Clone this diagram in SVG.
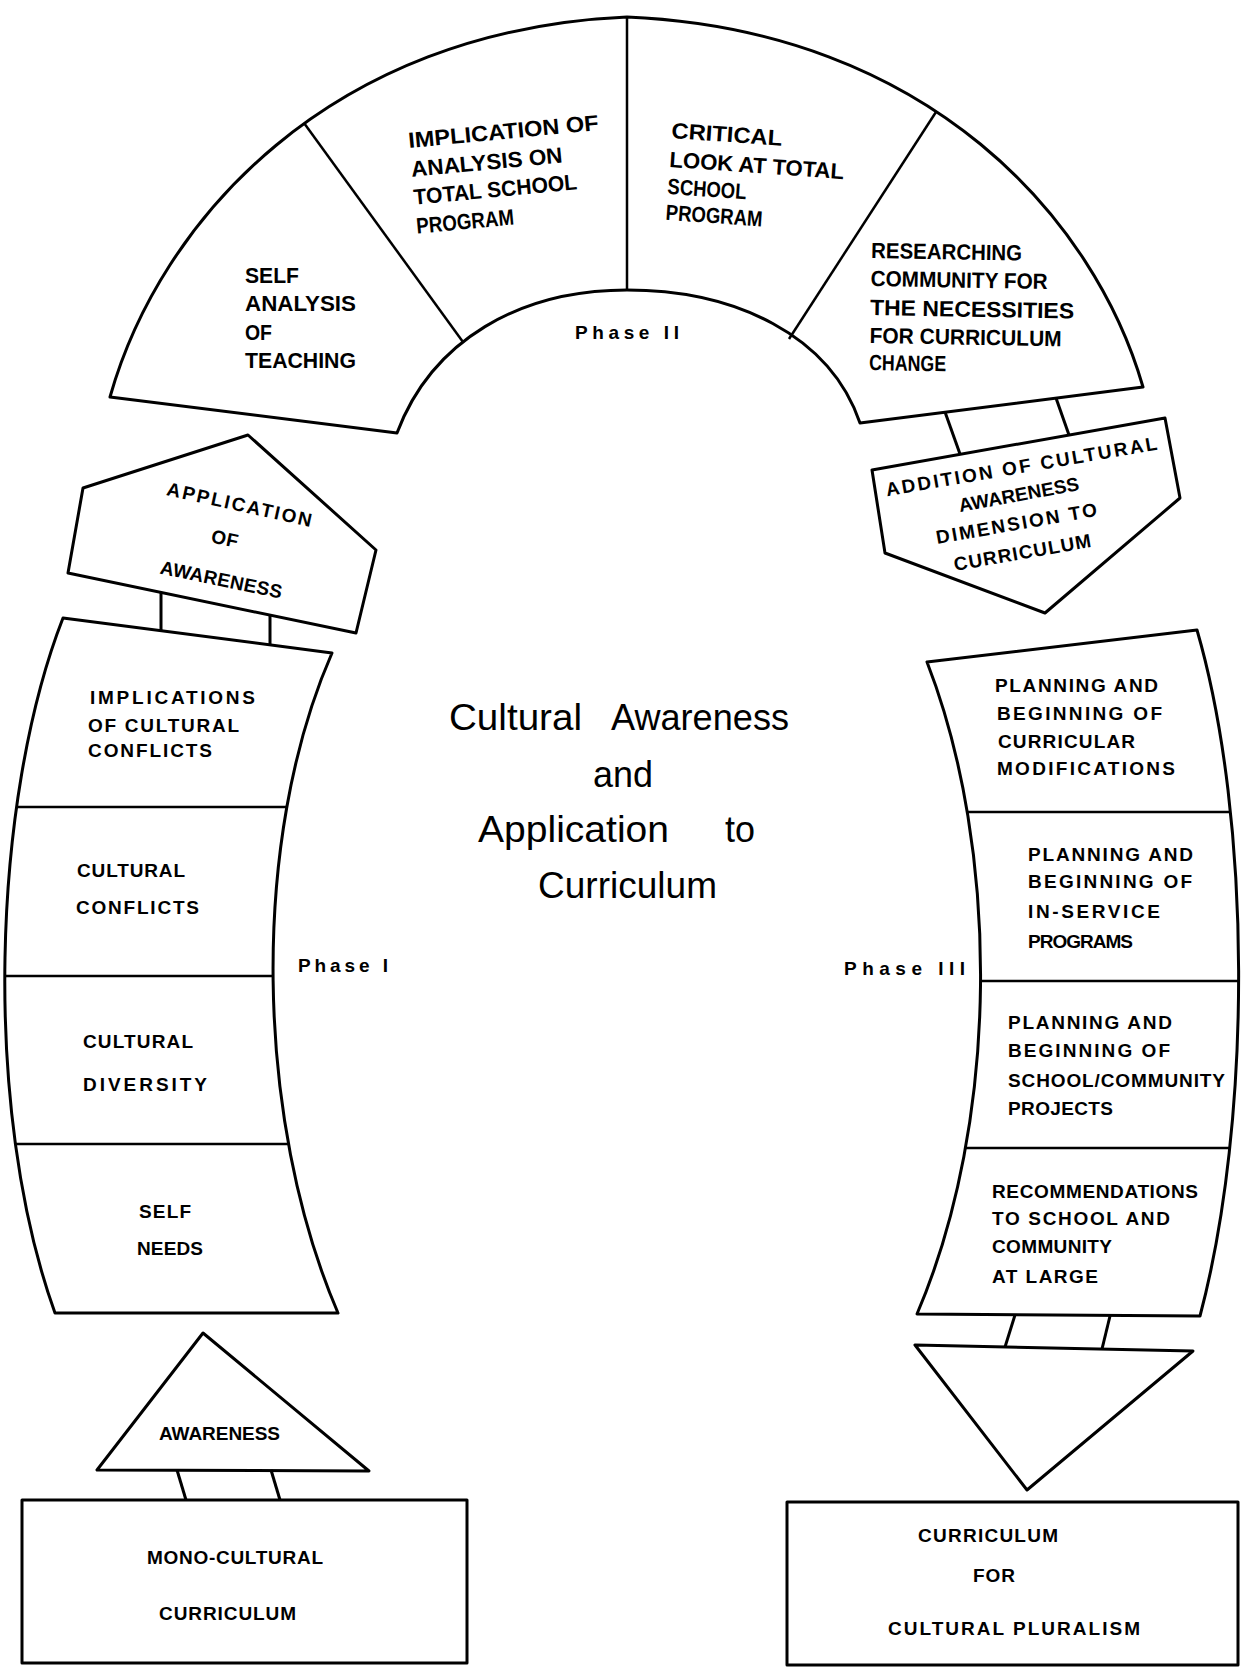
<svg xmlns="http://www.w3.org/2000/svg" width="1248" height="1672" viewBox="0 0 1248 1672">
<style>
.shape{fill:none;stroke:#000;stroke-width:3;stroke-linejoin:round}
.div{fill:none;stroke:#000;stroke-width:2.5}
.conn{fill:none;stroke:#000;stroke-width:3}
.t{font-family:"Liberation Sans",Arial,sans-serif;font-weight:bold;font-size:19px;fill:#000}
.tn{font-family:"Liberation Sans",Arial,sans-serif;font-weight:bold;font-size:22px;fill:#000}
.title{font-family:"Liberation Sans",Arial,sans-serif;font-size:37px;fill:#000}
</style>
<defs>
<clipPath id="clipLeft"><path d="M63,618 L332,653 C250,840 255,1120 338,1313 L55,1313 C-18,1110 -8,800 63,618 Z"/></clipPath>
<clipPath id="clipRight"><path d="M927,662 L1197,630 C1252,820 1252,1120 1200,1316 L917,1314 C1000,1120 1000,850 927,662 Z"/></clipPath>
</defs>
<rect width="1248" height="1672" fill="#fff"/>

<g id="phase2-arch">
<path class="shape" d="M110,397 C160,220 330,30 627,17 C930,30 1095,220 1143,387 L860,423 C830,335 735,290 627,290 C520,290 432,340 397,433 Z"/>
<line class="div" x1="304" y1="123" x2="463" y2="342"/>
<line class="div" x1="627" y1="17" x2="627" y2="290"/>
<line class="div" x1="936" y1="112" x2="789" y2="339"/>
<text class="t" x="575" y="339" textLength="104">Phase II</text>
</g>

<g id="self-analysis">
<text class="tn" x="245" y="283" textLength="54" lengthAdjust="spacingAndGlyphs">SELF</text>
<text class="tn" x="245" y="311" textLength="111" lengthAdjust="spacingAndGlyphs">ANALYSIS</text>
<text class="tn" x="245" y="340" textLength="27" lengthAdjust="spacingAndGlyphs">OF</text>
<text class="tn" x="245" y="368" textLength="111" lengthAdjust="spacingAndGlyphs">TEACHING</text>
</g>

<g id="implication-of-analysis" transform="translate(409,148) rotate(-5.4)">
<text class="tn" x="0" y="0" textLength="191" lengthAdjust="spacingAndGlyphs">IMPLICATION OF</text>
<text class="tn" x="0" y="29" textLength="152" lengthAdjust="spacingAndGlyphs">ANALYSIS ON</text>
<text class="tn" x="0" y="57" textLength="164" lengthAdjust="spacingAndGlyphs">TOTAL SCHOOL</text>
<text class="tn" x="0" y="86" textLength="98" lengthAdjust="spacingAndGlyphs">PROGRAM</text>
</g>

<g id="critical-look" transform="translate(671,138) rotate(4)">
<text class="tn" x="0" y="0" textLength="111" lengthAdjust="spacingAndGlyphs">CRITICAL</text>
<text class="tn" x="0" y="29" textLength="175" lengthAdjust="spacingAndGlyphs">LOOK AT TOTAL</text>
<text class="tn" x="0" y="56" textLength="79" lengthAdjust="spacingAndGlyphs">SCHOOL</text>
<text class="tn" x="0" y="82" textLength="97" lengthAdjust="spacingAndGlyphs">PROGRAM</text>
</g>

<g id="researching-community" transform="translate(871,258) rotate(1)">
<text class="tn" x="0" y="0" textLength="151" lengthAdjust="spacingAndGlyphs">RESEARCHING</text>
<text class="tn" x="0" y="28" textLength="177" lengthAdjust="spacingAndGlyphs">COMMUNITY FOR</text>
<text class="tn" x="0" y="57" textLength="204" lengthAdjust="spacingAndGlyphs">THE NECESSITIES</text>
<text class="tn" x="0" y="85" textLength="192" lengthAdjust="spacingAndGlyphs">FOR CURRICULUM</text>
<text class="tn" x="0" y="112" textLength="77" lengthAdjust="spacingAndGlyphs">CHANGE</text>
</g>

<g id="application-of-awareness">
<polygon class="shape" points="83,488 248,435 376,550 356,633 68,573"/>
<text class="t" x="164" y="511" textLength="148" transform="rotate(12.4 238 511)">APPLICATION</text>
<text class="t" x="210" y="545" textLength="27" transform="rotate(12 223 545)">OF</text>
<text class="t" x="158" y="586" textLength="124" transform="rotate(11.7 220 586)">AWARENESS</text>
</g>

<g id="addition-of-cultural-awareness">
<polygon class="shape" points="872,470 1165,418 1180,498 1045,613 885,553"/>
<text class="t" x="885" y="473" textLength="275" transform="rotate(-9.8 1022 473)">ADDITION OF CULTURAL</text>
<text class="t" x="959" y="501" textLength="122" transform="rotate(-10.4 1020 501)">AWARENESS</text>
<text class="t" x="936" y="530" textLength="163" transform="rotate(-10 1017 530)">DIMENSION TO</text>
<text class="t" x="954" y="559" textLength="139" transform="rotate(-10 1023 559)">CURRICULUM</text>
</g>

<g id="phase1-column">
<path class="shape" d="M63,618 L332,653 C250,840 255,1120 338,1313 L55,1313 C-18,1110 -8,800 63,618 Z"/>
<g clip-path="url(#clipLeft)">
<line class="div" x1="0" y1="807" x2="360" y2="807"/>
<line class="div" x1="0" y1="976" x2="360" y2="976"/>
<line class="div" x1="0" y1="1144" x2="360" y2="1144"/>
</g>
<text class="t" x="90" y="704" textLength="165">IMPLICATIONS</text>
<text class="t" x="88" y="732" textLength="151">OF CULTURAL</text>
<text class="t" x="88" y="757" textLength="124">CONFLICTS</text>
<text class="t" x="77" y="877" textLength="108">CULTURAL</text>
<text class="t" x="76" y="914" textLength="123">CONFLICTS</text>
<text class="t" x="83" y="1048" textLength="110">CULTURAL</text>
<text class="t" x="83" y="1091" textLength="124">DIVERSITY</text>
<text class="t" x="139" y="1218" textLength="52">SELF</text>
<text class="t" x="137" y="1255" textLength="66">NEEDS</text>
<text class="t" x="298" y="972" textLength="90">Phase I</text>
</g>

<g id="phase3-column">
<path class="shape" d="M927,662 L1197,630 C1252,820 1252,1120 1200,1316 L917,1314 C1000,1120 1000,850 927,662 Z"/>
<g clip-path="url(#clipRight)">
<line class="div" x1="900" y1="812" x2="1248" y2="812"/>
<line class="div" x1="900" y1="981" x2="1248" y2="981"/>
<line class="div" x1="900" y1="1148" x2="1248" y2="1148"/>
</g>
<text class="t" x="995" y="692" textLength="163">PLANNING AND</text>
<text class="t" x="997" y="720" textLength="165">BEGINNING OF</text>
<text class="t" x="998" y="748" textLength="137">CURRICULAR</text>
<text class="t" x="997" y="775" textLength="178">MODIFICATIONS</text>
<text class="t" x="1028" y="861" textLength="165">PLANNING AND</text>
<text class="t" x="1028" y="888" textLength="164">BEGINNING OF</text>
<text class="t" x="1028" y="918" textLength="132">IN-SERVICE</text>
<text class="t" x="1028" y="948" textLength="105">PROGRAMS</text>
<text class="t" x="1008" y="1029" textLength="164">PLANNING AND</text>
<text class="t" x="1008" y="1057" textLength="162">BEGINNING OF</text>
<text class="t" x="1008" y="1087" textLength="217">SCHOOL/COMMUNITY</text>
<text class="t" x="1008" y="1115" textLength="105">PROJECTS</text>
<text class="t" x="992" y="1198" textLength="206">RECOMMENDATIONS</text>
<text class="t" x="992" y="1225" textLength="178">TO SCHOOL AND</text>
<text class="t" x="992" y="1253" textLength="120">COMMUNITY</text>
<text class="t" x="992" y="1283" textLength="106">AT LARGE</text>
<text class="t" x="844" y="975" textLength="121">Phase III</text>
</g>

<g id="awareness">
<polygon class="shape" points="203,1333 97,1470 369,1471"/>
<text class="t" x="159" y="1440" textLength="121">AWARENESS</text>
</g>

<g id="mono-cultural-curriculum">
<rect class="shape" x="22" y="1500" width="445" height="163"/>
<text class="t" x="147" y="1564" textLength="176">MONO-CULTURAL</text>
<text class="t" x="159" y="1620" textLength="137">CURRICULUM</text>
</g>

<g id="pluralism-arrow">
<polygon class="shape" points="915,1345 1193,1351 1027,1490"/>
</g>

<g id="curriculum-for-cultural-pluralism">
<rect class="shape" x="787" y="1502" width="451" height="163"/>
<text class="t" x="918" y="1542" textLength="140">CURRICULUM</text>
<text class="t" x="973" y="1582" textLength="42">FOR</text>
<text class="t" x="888" y="1635" textLength="252">CULTURAL PLURALISM</text>
</g>

<g id="title">
<text class="title" x="449" y="730" textLength="133" lengthAdjust="spacingAndGlyphs">Cultural</text>
<text class="title" x="611" y="730" textLength="178" lengthAdjust="spacingAndGlyphs">Awareness</text>
<text class="title" x="593" y="787" textLength="60" lengthAdjust="spacingAndGlyphs">and</text>
<text class="title" x="478" y="842" textLength="191" lengthAdjust="spacingAndGlyphs">Application</text>
<text class="title" x="725" y="842" textLength="30" lengthAdjust="spacingAndGlyphs">to</text>
<text class="title" x="538" y="898" textLength="179" lengthAdjust="spacingAndGlyphs">Curriculum</text>
</g>

<g id="connectors">
<line class="conn" x1="161" y1="592" x2="161" y2="631"/>
<line class="conn" x1="270" y1="615" x2="270" y2="645"/>
<line class="conn" x1="945" y1="412" x2="960" y2="454"/>
<line class="conn" x1="1056" y1="398" x2="1069" y2="435"/>
<line class="conn" x1="177" y1="1470" x2="186" y2="1500"/>
<line class="conn" x1="271" y1="1470" x2="280" y2="1500"/>
<line class="conn" x1="1015" y1="1315" x2="1005" y2="1347"/>
<line class="conn" x1="1110" y1="1316" x2="1102" y2="1349"/>
</g>
</svg>
